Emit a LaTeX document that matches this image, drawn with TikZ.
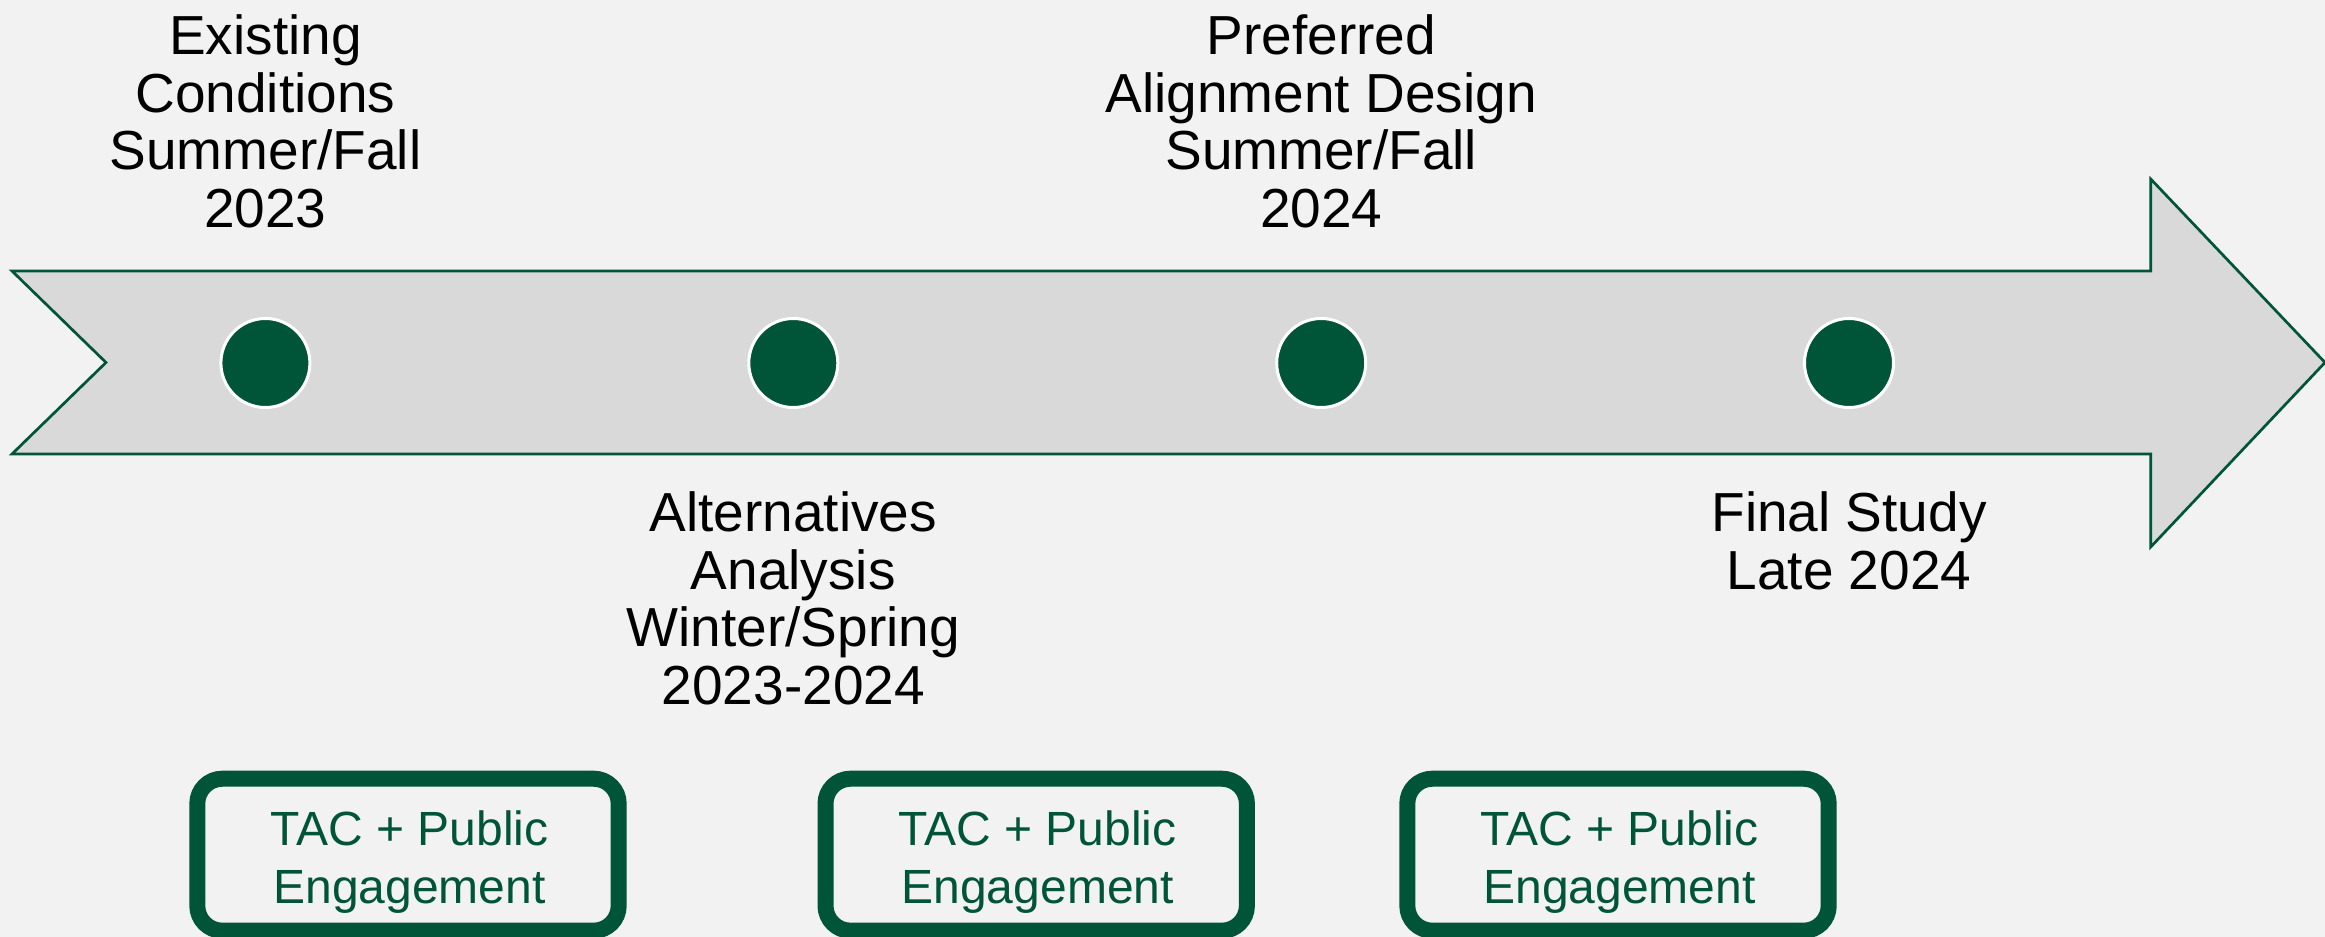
\documentclass[tikz,border=0pt]{standalone}
\usepackage{fontspec}
\setmainfont{Liberation Sans}
\definecolor{dgreen}{RGB}{0,84,55}
\definecolor{bgcol}{RGB}{242,242,242}
\definecolor{arrowfill}{RGB}{217,217,217}
\begin{document}
\begin{tikzpicture}[x=0.5pt,y=-0.5pt,
  toptext/.style={align=center, font=\fontsize{27.5}{28.75}\selectfont, inner sep=0pt, anchor=base},
  dot/.style={circle, fill=dgreen, draw=white, line width=1.5pt, minimum size=44.5pt, inner sep=0pt},
  tacbox/.style={draw=dgreen, line width=8pt, rounded corners=12.5pt, minimum width=210.7pt, minimum height=76pt, inner sep=0pt},
  tactext/.style={align=center, font=\fontsize{24}{28.8}\selectfont, text=dgreen, inner sep=0pt, anchor=base},
  timeline/.style={fill=arrowfill, draw=dgreen, line width=1.35pt}]
\fill[bgcol] (0,0) rectangle (2325,937);
\useasboundingbox (0,0) rectangle (2325,937);
\draw[timeline] (12,271) -- (2150.7,271) -- (2150.7,179) -- (2325,362.5) -- (2150.7,547) -- (2150.7,454) -- (12,454) -- (106,362.5) -- cycle;
\node[dot] (d1) at (265.4,363) {};
\node[dot] (d2) at (793.3,363) {};
\node[dot] (d3) at (1321.2,363) {};
\node[dot] (d4) at (1849,363) {};
\node[toptext] (t1) at (265.4,227) {Existing\\Conditions\\Summer/Fall\\2023};
\node[toptext] (t3) at (1321.2,227) {Preferred\\Alignment Design\\Summer/Fall\\2024};
\node[toptext] (t2) at (793.3,704) {Alternatives\\Analysis\\Winter/Spring\\2023-2024};
\node[toptext] (t4) at (1849,589.3) {Final Study\\Late 2024};
\node[tacbox] (b1) at (408,854.7) {};
\node[tacbox] (b2) at (1036.2,854.7) {};
\node[tacbox] (b3) at (1618,854.7) {};
\node[tactext] (e1) at (409.5,903.3) {TAC + Public\\Engagement};
\node[tactext] (e2) at (1037.7,903.3) {TAC + Public\\Engagement};
\node[tactext] (e3) at (1619.5,903.3) {TAC + Public\\Engagement};
\end{tikzpicture}
\end{document}
